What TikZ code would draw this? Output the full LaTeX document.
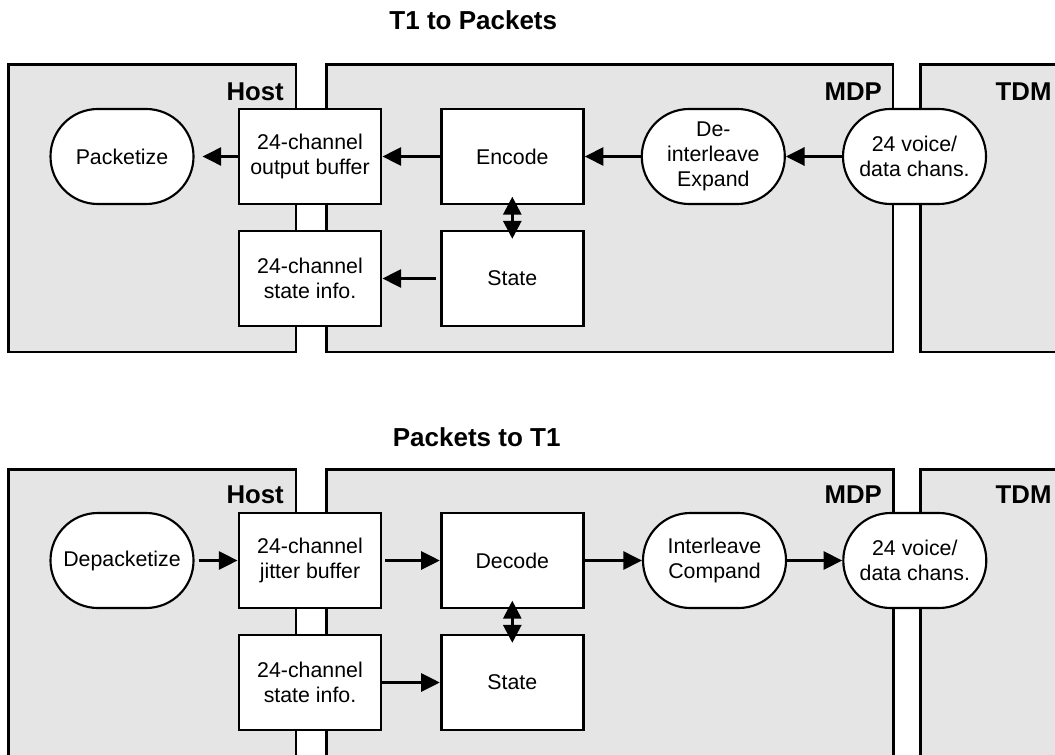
\documentclass[tikz,border=0pt]{standalone}
\usepackage{fontspec}
\setmainfont{Liberation Sans}
\usetikzlibrary{arrows.meta}
\begin{document}
\begin{tikzpicture}[x=0.75pt,y=-0.75pt,
  panel/.style={draw=black, fill=black!10, line width=2.1pt},
  blockbox/.style={draw=black, fill=white, line width=2.2pt,
    minimum width=106.5pt, minimum height=71.25pt, inner sep=0pt,
    align=center, font=\fontsize{16}{18.75}\selectfont},
  stadium/.style={draw=black, fill=white, line width=1.6pt,
    rounded corners=35.5pt, minimum width=107.25pt, minimum height=71.25pt,
    inner sep=0pt, align=center, font=\fontsize{16}{18.75}\selectfont},
  zone/.style={font=\fontsize{19.3}{22}\selectfont\bfseries, anchor=base east, inner sep=0pt},
  heading/.style={font=\fontsize{19.5}{22}\selectfont\bfseries, anchor=base, inner sep=0pt},
  flow/.style={line width=2.2pt, -{Triangle[length=14pt,width=13.5pt]}},
  twoway/.style={line width=2.2pt,
    {Triangle[length=13.5pt,width=13.5pt]}-{Triangle[length=13.5pt,width=13.5pt]}},
]
\useasboundingbox (0,0) rectangle (1055,755);
\begin{scope}
\clip (0,0) rectangle (1055,755);

% ---------------- T1 to Packets ----------------
\node[heading] (titleA) at (473.3,29.3) {T1 to Packets};
\path[panel] (8.5,64.7) rectangle (296,352);
\path[panel] (326.5,64.7) rectangle (893,352);
\path[panel] (920.7,64.7) rectangle (1075,352);
\node[zone] (hostA) at (284,100.7) {Host};
\node[zone] (mdpA) at (882,100.7) {MDP};
\node[zone] (tdmA) at (1051.7,100.7) {TDM};

\node[stadium] (pack) at (122,156.5) {Packetize};
\node[blockbox] (outbuf) at (310,156.5) {24-channel\\output buffer};
\node[blockbox] (enc) at (512.3,156.5) {Encode};
\node[stadium] (deint) at (713.3,156.5) {De-\\interleave\\Expand};
\node[stadium] (voiceA) at (914.5,156.5) {24 voice/\\data chans.};
\node[blockbox] (stinfoA) at (310,278.5) {24-channel\\state info.};
\node[blockbox] (stateA) at (512.3,278.5) {State};

\draw[flow] (outbuf.west) -- ([xshift=6pt]pack.east);
\draw[flow] (enc.west) -- (outbuf.east);
\draw[flow] (deint.west) -- (enc.east);
\draw[flow] (voiceA.west) -- (deint.east);
\draw[flow] ([xshift=-3pt]stateA.west) -- (stinfoA.east);
\draw[twoway] ([yshift=6.6pt]enc.south) -- ([yshift=-7pt]stateA.north);

% ---------------- Packets to T1 ----------------
\node[heading] (titleB) at (476.7,446.7) {Packets to T1};
\path[panel] (8.5,469.7) rectangle (296,757);
\path[panel] (326.5,469.7) rectangle (893.5,757);
\path[panel] (920.2,469.7) rectangle (1075,757);
\node[zone] (hostB) at (284,503) {Host};
\node[zone] (mdpB) at (882,503) {MDP};
\node[zone] (tdmB) at (1051.7,503) {TDM};

\node[stadium] (depack) at (122,560.5) {Depacketize};
\node[blockbox] (jitter) at (310,560.5) {24-channel\\jitter buffer};
\node[blockbox] (dec) at (512.3,560.5) {Decode};
\node[stadium] (inter) at (714.5,560.5) {Interleave\\Compand};
\node[stadium] (voiceB) at (914.8,560.5) {24 voice/\\data chans.};
\node[blockbox] (stinfoB) at (310,682.5) {24-channel\\state info.};
\node[blockbox] (stateB) at (512.3,682.5) {State};

\draw[flow] ([xshift=3pt]depack.east) -- (jitter.west);
\draw[flow] ([xshift=2pt]jitter.east) -- (dec.west);
\draw[flow] (dec.east) -- (inter.west);
\draw[flow] (inter.east) -- (voiceB.west);
\draw[flow] (stinfoB.east) -- (stateB.west);
\draw[twoway] ([yshift=6.6pt]dec.south) -- ([yshift=-7pt]stateB.north);
\end{scope}
\end{tikzpicture}
\end{document}
